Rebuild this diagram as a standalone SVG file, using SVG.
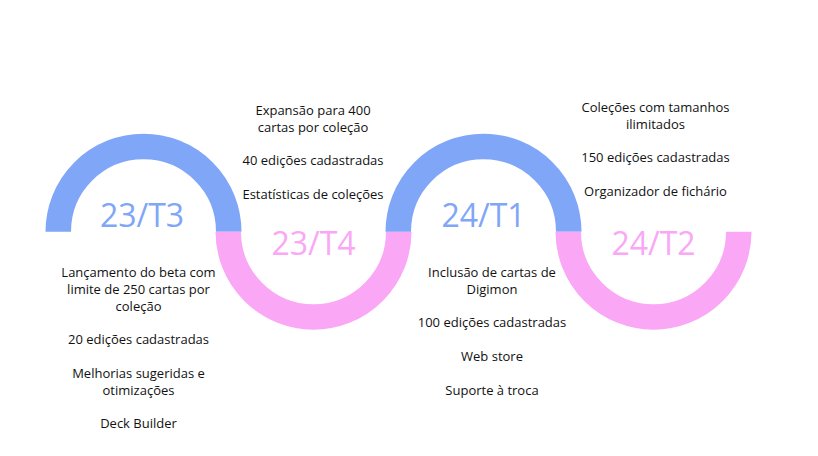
<svg xmlns="http://www.w3.org/2000/svg" width="818" height="456" viewBox="0 0 818 456">
<style>
.arc{fill:none;stroke-width:25.5;stroke-linecap:butt}
.blue{stroke:#80A6F8}
.pink{stroke:#FAA7F6}
.lbl{font-family:"Open Sans","Noto Sans",sans-serif;font-size:32px;text-anchor:middle}
.lb{fill:#80A6F8}
.lp{fill:#FAA7F6}
.txt{font-family:"Open Sans","Noto Sans",sans-serif;font-size:13px;text-anchor:middle;fill:#111}
</style>
<rect width="818" height="456" fill="#fff"/>
<g id="connectors"></g>
<g id="node-23T3">
<path class="arc blue" d="M 58.25 231.7 A 85.25 85.25 0 0 1 228.75 231.7"/>
<text class="lbl lb" x="142" y="227">23/T3</text>
<text class="txt" x="138.5" y="277">Lançamento do beta com</text>
<text class="txt" x="138.5" y="293.8">limite de 250 cartas por</text>
<text class="txt" x="138.5" y="310.6">coleção</text>
<text class="txt" x="138.5" y="344.2">20 edições cadastradas</text>
<text class="txt" x="138.5" y="377.8">Melhorias sugeridas e</text>
<text class="txt" x="138.5" y="394.6">otimizações</text>
<text class="txt" x="138.5" y="428.2">Deck Builder</text>
</g>
<g id="node-23T4">
<path class="arc pink" d="M 228.25 231.7 A 85.25 85.25 0 0 0 398.75 231.7"/>
<text class="lbl lp" x="313.5" y="255">23/T4</text>
<text class="txt" x="313" y="115">Expansão para 400</text>
<text class="txt" x="313" y="131.8">cartas por coleção</text>
<text class="txt" x="313" y="165">40 edições cadastradas</text>
<text class="txt" x="313" y="198.6">Estatísticas de coleções</text>
</g>
<g id="node-24T1">
<path class="arc blue" d="M 398.25 231.7 A 85.25 85.25 0 0 1 568.75 231.7"/>
<text class="lbl lb" x="483.5" y="227">24/T1</text>
<text class="txt" x="492" y="277">Inclusão de cartas de</text>
<text class="txt" x="492" y="293.8">Digimon</text>
<text class="txt" x="492" y="327.4">100 edições cadastradas</text>
<text class="txt" x="492" y="361">Web store</text>
<text class="txt" x="492" y="394.6">Suporte à troca</text>
</g>
<g id="node-24T2">
<path class="arc pink" d="M 568.25 231.7 A 85.25 85.25 0 0 0 738.75 231.7"/>
<text class="lbl lp" x="653.5" y="255">24/T2</text>
<text class="txt" x="655.5" y="112">Coleções com tamanhos</text>
<text class="txt" x="655.5" y="128.8">ilimitados</text>
<text class="txt" x="655.5" y="162.4">150 edições cadastradas</text>
<text class="txt" x="655.5" y="196">Organizador de fichário</text>
</g>
</svg>
